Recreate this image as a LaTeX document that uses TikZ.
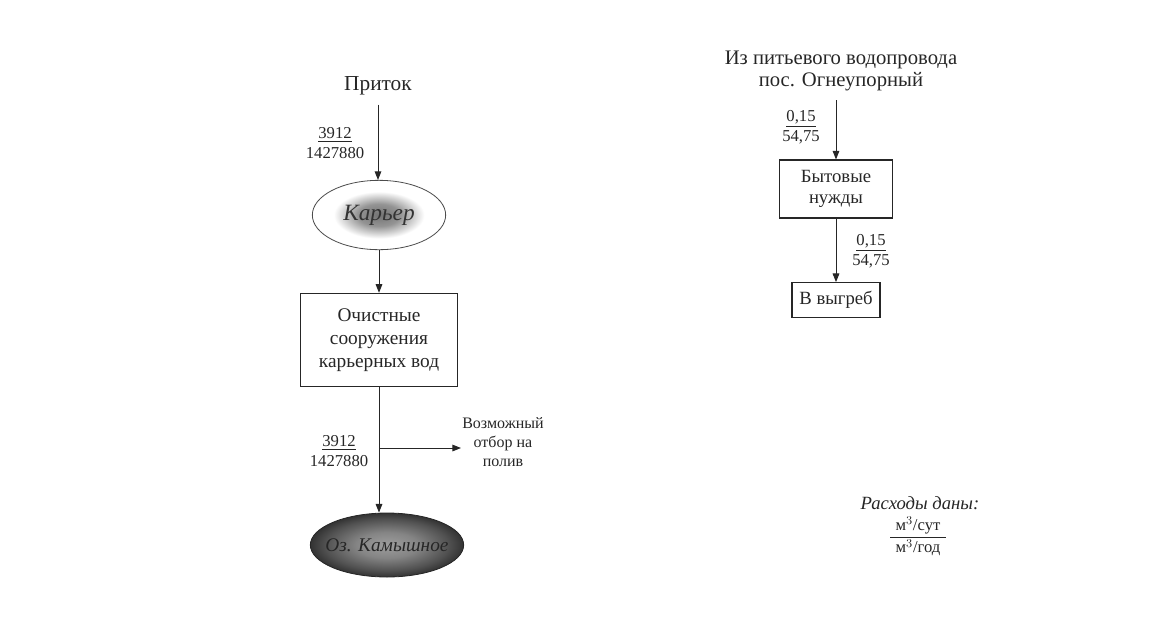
\documentclass[tikz,border=0pt]{standalone}
\usepackage{fontspec}
\usepackage{amsmath}
\setmainfont{Liberation Serif}
\usetikzlibrary{shapes.geometric,arrows.meta}
\pgfdeclareradialshading{karershade}{\pgfpoint{0bp}{0bp}}{color(0bp)=(black!55); color(8bp)=(black!42); color(17bp)=(white); color(50bp)=(white)}
\pgfdeclareradialshading{lakeshade}{\pgfpoint{0bp}{0bp}}{color(0bp)=(black!38); color(10bp)=(black!48); color(20bp)=(black!68); color(25bp)=(black!80); color(50bp)=(black!80)}

\begin{document}
\begin{tikzpicture}[x=0.75pt,y=0.75pt,yscale=-1,xscale=1,
  flow/.style={-{Triangle[length=6.5pt,width=5pt]}, line width=0.75, black!85},
  box/.style={draw=black!85, line width=0.8, rectangle, align=center, inner sep=0.75pt, text=black!85},
  num/.style={align=center, inner sep=0.75pt, text=black!85, font=\fontsize{12.5}{15}\selectfont}]
\useasboundingbox (0,0) rectangle (1172,626);

%Shape: Ellipse
\draw (379,215) node [ellipse, draw=black!70, line width=0.6, shading=karershade, minimum width=100pt, minimum height=52pt, inner sep=0pt, text=black!80, font=\fontsize{17.5}{20}\selectfont\itshape] (karer) {Карьер};
%Shape: Rectangle
\draw (379,340) node [box, minimum width=118pt, minimum height=70pt, font=\fontsize{14.5}{17.5}\selectfont] (ochist) {Очистные\\сооружения\\карьерных вод};
%Shape: Ellipse
\draw (387,545) node [ellipse, draw=black!85, line width=0.6, shading=lakeshade, minimum width=115pt, minimum height=48pt, inner sep=0pt, text=black!85, font=\fontsize{14.5}{18}\selectfont\itshape] (ozero) {\makebox[0pt]{Оз. Камышное}};
%Shape: Rectangle
\draw (836,189) node [box, minimum width=85pt, minimum height=43.5pt, font=\fontsize{14}{16}\selectfont] (byt) {Бытовые\\нужды};
%Shape: Rectangle
\draw (836,300) node [box, minimum width=66pt, minimum height=26pt, font=\fontsize{14}{16}\selectfont] (vygreb) {В выгреб};

% Text Node
\draw (378,86) node [inner sep=0.75pt, text=black!85, font=\fontsize{16}{19}\selectfont] (pritok) {Приток};
% Text Node
\draw (841,71) node [align=center, inner sep=0.75pt, text=black!85, font=\fontsize{15.5}{16.5}\selectfont] (istoch) {Из питьевого водопровода\\пос. Огнеупорный};
% Text Node
\draw (461,442) node [anchor=west, align=center, inner sep=0.75pt, text=black!85, font=\fontsize{12}{14}\selectfont] (otbor) {Возможный\\отбор на\\полив};

%Straight Lines
\draw [flow, shorten <=6pt] (pritok) -- (pritok |- karer.north);
\draw [flow] (karer) -- (karer |- ochist.north);
\draw [flow] (ochist) -- (ochist |- ozero.north);
\coordinate (fork) at (379,448);
\draw [flow] (fork) -- (fork -| otbor.west);
\draw [flow, shorten <=6pt] (byt.north |- istoch.south) -- (byt);
\draw [flow] (byt) -- (vygreb);

% Text Node
\draw (335,143) node [num] (flowin) {\underline{3912}\\1427880};
% Text Node
\draw (339,451) node [num] (flowout) {\underline{3912}\\1427880};
% Text Node
\draw (801,127) node [num] (flowbyt) {\underline{0,15}\\54,75};
% Text Node
\draw (871,251) node [num] (flowvyg) {\underline{0,15}\\54,75};

% Text Node
\draw (920,503) node [inner sep=0.75pt, text=black!85, font=\fontsize{14}{16}\selectfont\itshape] (legend) {Расходы даны:};
% Text Node
\draw (918,536) node [inner sep=0.75pt, text=black!85, font=\fontsize{12.5}{14}\selectfont] (legendfrac) {$\dfrac{\hspace{4pt}\text{м}^3\text{/сут}\hspace{4pt}}{\text{м}^3\text{/год}}$};

\end{tikzpicture}
\end{document}
